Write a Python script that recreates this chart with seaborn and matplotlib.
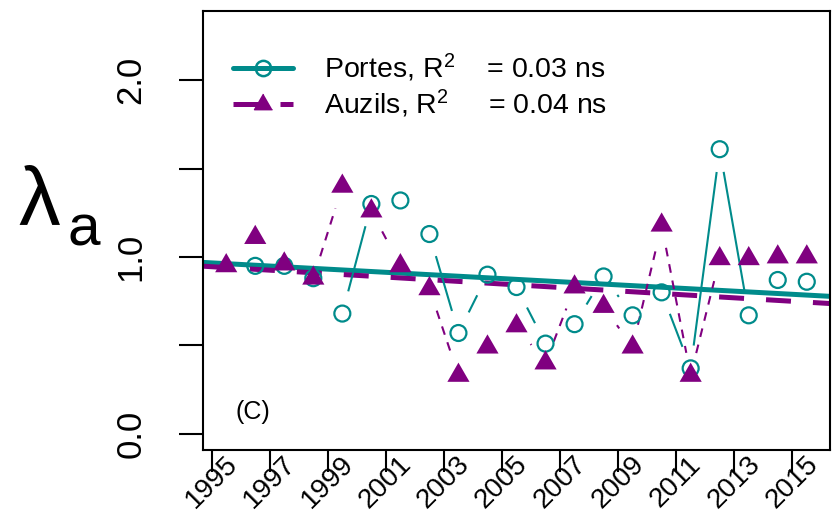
import numpy as np
import pandas as pd
import matplotlib
matplotlib.use("Agg")
import matplotlib.pyplot as plt
from matplotlib.lines import Line2D
import seaborn as sns

# Annual population growth rate per site (interval start year)
years = np.arange(1995, 2016)
portes = [np.nan, 0.95, 0.95, 0.88, 0.68, 1.30, 1.32, 1.13, 0.57, 0.90, 0.83,
          0.51, 0.62, 0.89, 0.67, 0.80, 0.37, 1.61, 0.67, 0.87, 0.86]
auzils = [0.95, 1.11, 0.96, 0.88, 1.40, 1.26, 0.95, 0.82, 0.33, 0.49, 0.61,
          0.40, 0.83, 0.72, 0.49, 1.18, 0.33, 0.99, 0.99, 1.00, 1.00]
tick_years = np.arange(1995, 2016, 2)
y_ticks = [0.0, 0.5, 1.0, 1.5, 2.0]
y_tick_labels = ["0.0", "", "1.0", "", "2.0"]
legend_labels = [r"Portes, R$^{2}$    = 0.03 ns", r"Auzils, R$^{2}$     = 0.04 ns"]
panel_tag = "(C)"

TEAL = "#008B8B"
PURPLE = "#800080"

sns.set_style("white")
plt.rcParams["font.family"] = ["Liberation Sans", "DejaVu Sans"]
plt.rcParams["mathtext.fontset"] = "custom"
plt.rcParams["mathtext.rm"] = "Liberation Sans"
plt.rcParams["mathtext.it"] = "Liberation Sans:italic"
plt.rcParams["mathtext.bf"] = "Liberation Sans:bold"
for key in ["text.color", "axes.labelcolor", "xtick.color", "ytick.color"]:
    plt.rcParams[key] = "black"

df = pd.DataFrame({"year": years, "mid": years + 0.5,
                   "Portes": portes, "Auzils": auzils})

W, H = 834, 518
fig = plt.figure(figsize=(W / 100, H / 100), dpi=100)
ax = fig.add_axes([203 / W, 1 - 450 / H, (830 - 203) / W, (450 - 11) / H])

# R-style 4 % padding around the data range
span = df["mid"].max() - df["mid"].min()
xlim = (df["mid"].min() - 0.04 * span, df["mid"].max() + 0.04 * span)
ylim = (-0.04 * 2.3, 2.3 * 1.04)
ax.set_xlim(xlim)
ax.set_ylim(ylim)

# Linear trends across the full x range
sns.regplot(data=df, x="mid", y="Portes", ax=ax, scatter=False, ci=None,
            truncate=False, color=TEAL,
            line_kws=dict(lw=3.6, zorder=2, solid_capstyle="butt"))
sns.regplot(data=df, x="mid", y="Auzils", ax=ax, scatter=False, ci=None,
            truncate=False, color=PURPLE,
            line_kws=dict(lw=3.6, dashes=(5, 4.4), zorder=2.2))
ax.set_xlim(xlim)
ax.set_ylim(ylim)


def joined_with_gaps(xs, ys, gap_px):
    """Segments between consecutive points, stopping short of each point."""
    pts = ax.transData.transform(np.column_stack([xs, ys]))
    inv = ax.transData.inverted()
    segs = []
    for p, q in zip(pts[:-1], pts[1:]):
        if not (np.all(np.isfinite(p)) and np.all(np.isfinite(q))):
            continue
        d = q - p
        length = np.hypot(*d)
        if length <= 2 * gap_px:
            continue
        u = d / length
        segs.append(inv.transform(np.vstack([p + u * gap_px, q - u * gap_px])))
    return segs


for seg in joined_with_gaps(df["mid"], df["Portes"], 23):
    ax.plot(seg[:, 0], seg[:, 1], color=TEAL, lw=1.5, zorder=2.5,
            solid_capstyle="butt")
for seg in joined_with_gaps(df["mid"], df["Auzils"], 23):
    ax.plot(seg[:, 0], seg[:, 1], color=PURPLE, lw=1.5, dashes=(4.2, 3.8),
            zorder=2.5)

tri = [(0, 1.0), (-0.866, -0.5), (0.866, -0.5)]
sns.scatterplot(data=df, x="mid", y="Portes", ax=ax, marker="o", s=132,
                color=TEAL, facecolors="none", edgecolor=TEAL,
                linewidth=1.6, zorder=3)
sns.scatterplot(data=df, x="mid", y="Auzils", ax=ax, marker=tri, s=340,
                color=PURPLE, edgecolor="none", linewidth=0, zorder=3.5)
ax.set_xlim(xlim)
ax.set_ylim(ylim)
ax.set_xlabel("")
ax.set_ylabel("")

# Axes, ticks and labels
for sp in ax.spines.values():
    sp.set_color("black")
    sp.set_linewidth(1.5)
ax.set_xticks(tick_years)
ax.set_xticklabels([str(y) for y in tick_years], rotation=45, ha="center",
                   va="center", rotation_mode="anchor", fontsize=20)
ax.set_yticks(y_ticks)
ax.set_yticklabels(y_tick_labels, rotation=90, va="center", fontsize=25)
ax.tick_params(axis="x", bottom=True, length=16, width=1.5, pad=7,
               direction="out", color="black")
ax.tick_params(axis="y", left=True, length=17, width=1.5, pad=23,
               direction="out", color="black")

fig.text(39 / W, 1 - 225 / H, "λ", fontsize=60, ha="center", va="baseline")
fig.text(84 / W, 1 - 245 / H, "a", fontsize=42, ha="center", va="baseline")

ax.text(0.08, 0.0866, panel_tag, transform=ax.transAxes, fontsize=18,
        ha="center", va="center")

handles = [
    Line2D([0], [0], color=TEAL, lw=3.6, marker="o", mfc="none", mec=TEAL,
           ms=11, mew=1.8),
    Line2D([0], [0], color=PURPLE, lw=3.6, dashes=(5, 4.4), marker=tri,
           mfc=PURPLE, mec=PURPLE, ms=15),
]
ax.legend(handles, legend_labels, loc="upper left",
          bbox_to_anchor=(30 / 627, (450 - 52) / 439), frameon=False,
          fontsize=20.5, handlelength=2.1, handletextpad=1.1,
          borderpad=0, borderaxespad=0, labelspacing=0.12)

fig.savefig("out.png", dpi=100)
